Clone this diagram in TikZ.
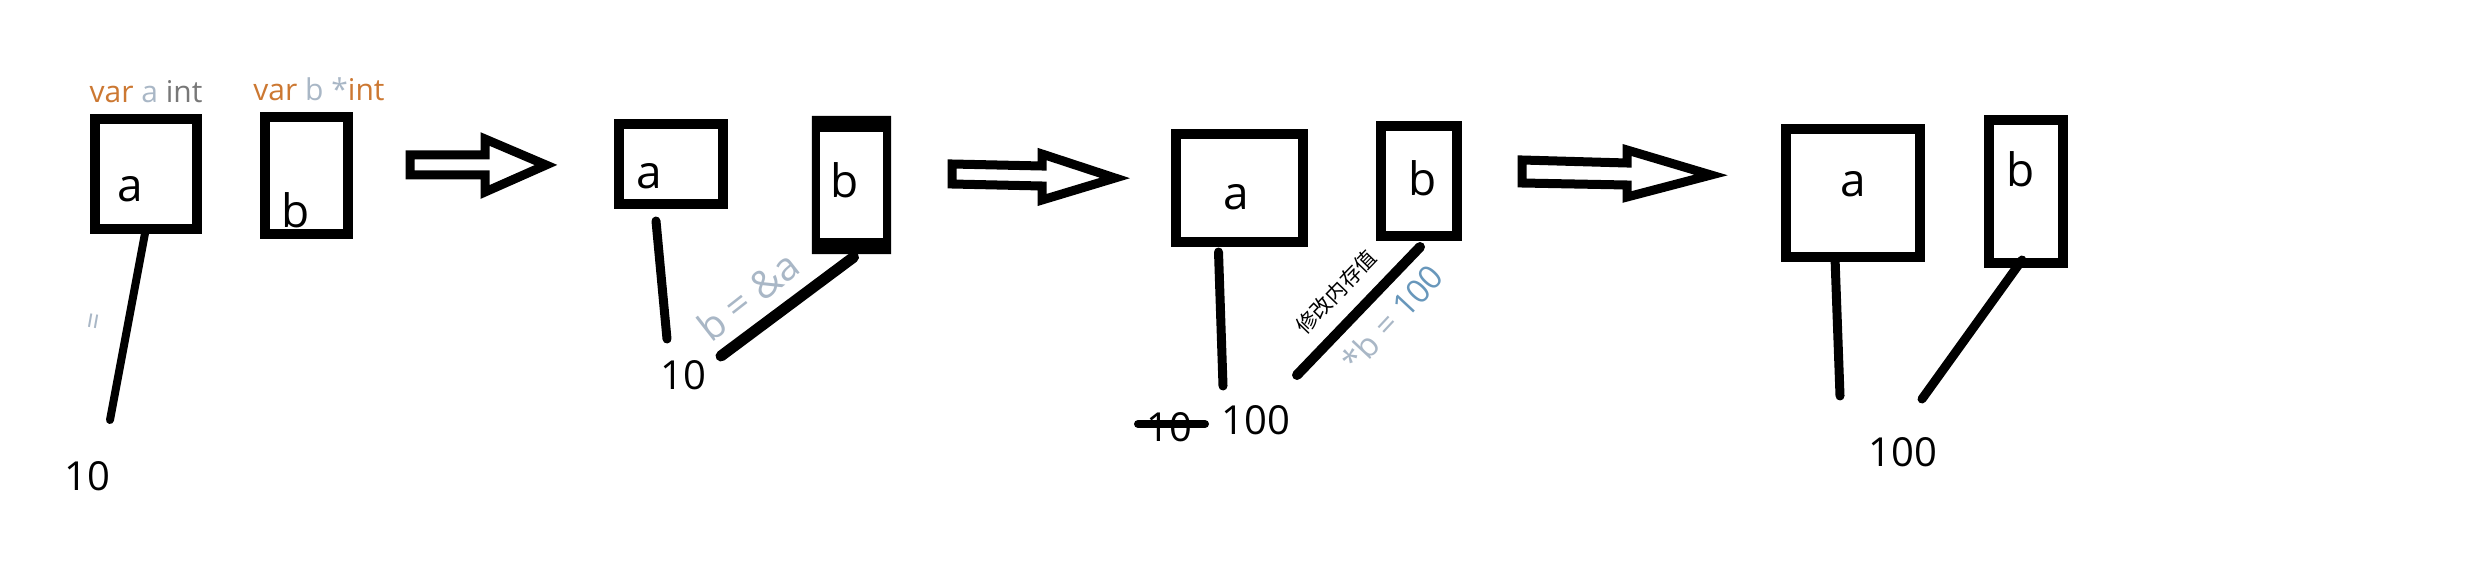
\documentclass[tikz,border=0pt]{standalone}
\usepackage{fontspec}
\setmainfont{Open Sans}
\newfontfamily\cjk{Noto Sans CJK SC}
\definecolor{kwcolor}{HTML}{CC7832}
\definecolor{idcolor}{HTML}{A9B7C6}
\definecolor{typecolor}{HTML}{787878}
\definecolor{numcolor}{HTML}{6897BB}
\tikzset{
  cell/.style={draw, line width=10pt, inner sep=0pt},
  link/.style={line width=9pt, line cap=round},
  bigarrow/.style={draw, line width=9pt, line join=miter, fill=white},
  letter/.style={font=\fontsize{46}{46}\selectfont, inner sep=0pt},
  value/.style={font=\fontsize{40}{40}\selectfont, inner sep=0pt},
  code/.style={font=\fontsize{30}{30}\selectfont, inner sep=0pt},
}
\begin{document}
\begin{tikzpicture}[x=1pt,y=-1pt]
\useasboundingbox (0,0) rectangle (2480,588);
% declarations
\node[code, anchor=base] (deca) at (146,103) {\textcolor{kwcolor}{var} \textcolor{idcolor}{a} \textcolor{typecolor}{int}};
\node[code, anchor=base] (decb) at (319,101) {\textcolor{kwcolor}{var} \textcolor{idcolor}{b *}\textcolor{kwcolor}{int}};
% step 1
\node[cell, minimum width=102pt, minimum height=110pt] (a1) at (146,174) {};
\node[cell, minimum width=83pt, minimum height=117pt] (b1) at (306.5,175.5) {};
\node[letter] (la1) at (130,189) {a};
\node[letter] (lb1) at (296,210) {b};
\coordinate (e1) at (110,420);
\draw[link, line width=8pt] ([yshift=6pt]a1.south) -- (e1);
\node[code, text=idcolor, rotate=80] (eq1) at (97,322) {=};
\node[value] (v1) at (87,476) {10};
\draw[bigarrow] (410,155) -- (485,155) -- (485,139) -- (546,165) -- (485,192) -- (485,175) -- (410,175) -- cycle;
% step 2
\node[cell, minimum width=104pt, minimum height=80pt] (a2) at (671,164) {};
\node[inner sep=0pt, minimum width=79pt, minimum height=138pt] (b2) at (851.5,185) {};
\fill[even odd rule] (b2.north west) rectangle (b2.south east)
  ([shift={(8,16)}]b2.north west) rectangle ([shift={(-8,-16)}]b2.south east);
\node[letter] (la2) at (649,176) {a};
\node[letter] (lb2) at (845,180) {b};
\coordinate (e2) at (667,339);
\coordinate (e3) at (721,356);
\draw[link] ([shift={(-15,12)}]a2.south) -- (e2);
\draw[link, line width=11pt] ([shift={(2,3)}]b2.south) -- (e3);
\node[font=\fontsize{39}{39}\selectfont, text=idcolor, rotate=38, inner sep=0pt] (ref) at (748,296) {b = \&a};
\node[value] (v2) at (683,375) {10};
\draw[bigarrow] (952,164) -- (1042,166) -- (1042,154) -- (1115,178) -- (1042,200) -- (1042,186) -- (952,184) -- cycle;
% step 3
\node[cell, minimum width=127pt, minimum height=108pt] (a3) at (1239.5,188) {};
\node[cell, minimum width=76pt, minimum height=110pt] (b3) at (1419,181) {};
\node[letter] (la3) at (1236,197) {a};
\node[letter] (lb3) at (1423,178) {b};
\coordinate (e4) at (1223,386);
\coordinate (e5) at (1297,375);
\draw[link] ([shift={(-21,5)}]a3.south) -- (e4);
\draw[link, line width=10pt] ([shift={(1,6)}]b3.south) -- (e5);
\node[font=\cjk\fontsize{21}{21}\selectfont, rotate=46, inner sep=0pt] (memo) at (1336,292) {修改内存值};
\node[font=\fontsize{33}{33}\selectfont, rotate=47, inner sep=0pt] (deref) at (1392,318) {\textcolor{idcolor}{*b =} \textcolor{numcolor}{100}};
\node[value] (v3old) at (1169,427) {10};
\draw[link, line width=8pt] ([shift={(-31,-3)}]v3old.center) -- ([shift={(36,-3)}]v3old.center);
\node[value] (v3) at (1256,420) {100};
\draw[bigarrow] (1522,160) -- (1627,163) -- (1627,150) -- (1711,175) -- (1627,197) -- (1627,185) -- (1522,183) -- cycle;
% step 4
\node[cell, minimum width=134pt, minimum height=128pt] (a4) at (1853,193) {};
\node[cell, minimum width=74pt, minimum height=143pt] (b4) at (2026,191.5) {};
\node[letter] (la4) at (1853,184) {a};
\node[letter] (lb4) at (2021,169) {b};
\coordinate (e6) at (1840,396);
\coordinate (e7) at (1922,399);
\draw[link] ([shift={(-18,-4)}]a4.south) -- (e6);
\draw[link] ([shift={(-4,-8)}]b4.south) -- (e7);
\node[value] (v4) at (1903,452) {100};
\end{tikzpicture}
\end{document}
